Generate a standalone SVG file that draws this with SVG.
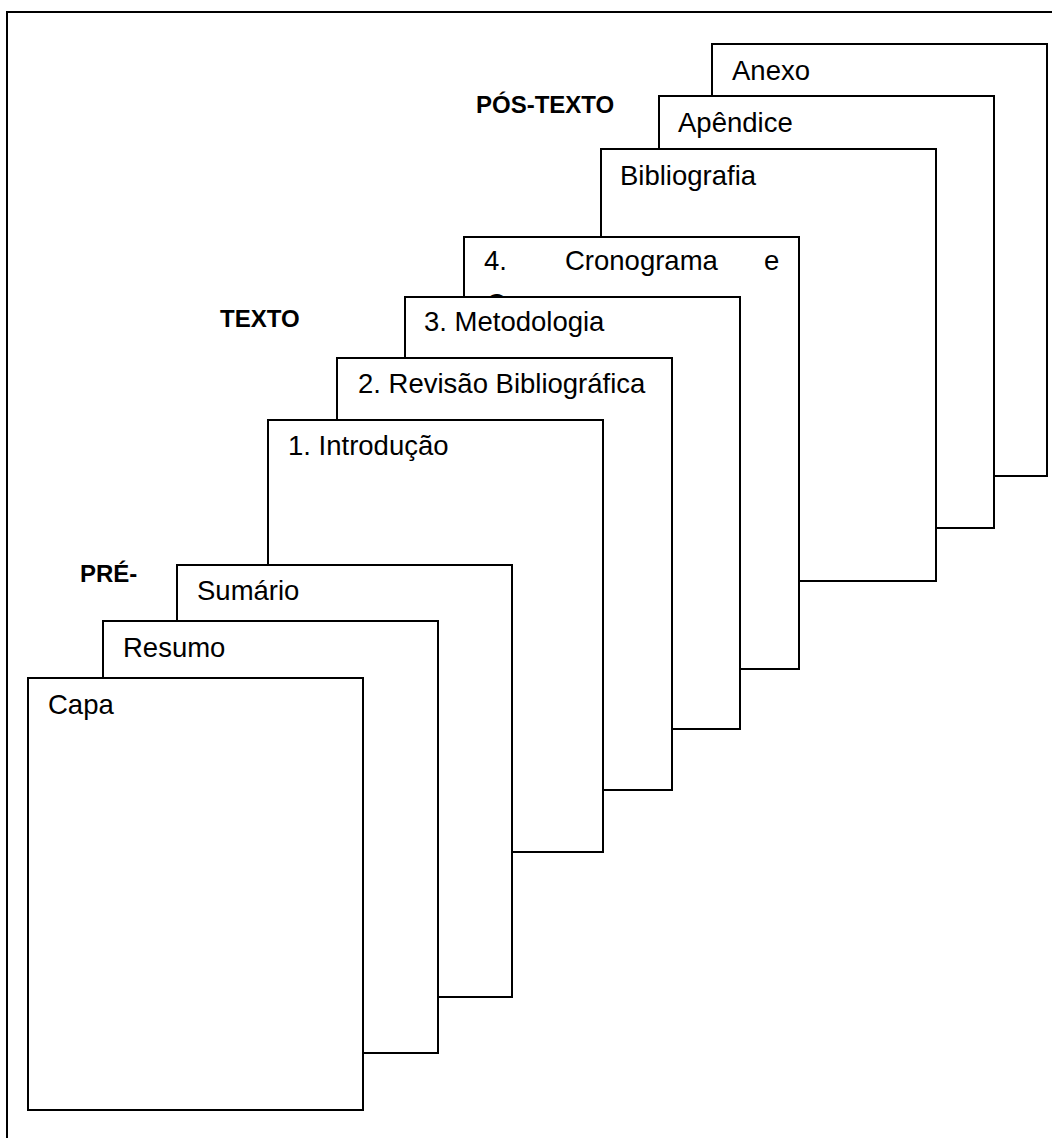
<svg xmlns="http://www.w3.org/2000/svg" width="1052" height="1138" viewBox="0 0 1052 1138">
<style>
.pg{fill:#fff;stroke:#000;stroke-width:2}
.t{font-family:"Liberation Sans",Arial,sans-serif;font-size:27.5px;fill:#000}
.h{font-family:"Liberation Sans",Arial,sans-serif;font-size:24px;font-weight:bold;fill:#000}
.fr{fill:none;stroke:#000;stroke-width:2}
</style>
<defs>
<clipPath id="cronoClip"><rect x="464" y="237" width="46" height="59"/></clipPath>
</defs>
<rect width="1052" height="1138" fill="#fff"/>
<g id="frame"><path class="fr" d="M7,1138 V12 H1052"/></g>
<g id="connectors"></g>
<g id="lbl-pos"><text class="h" x="476" y="113">PÓS-TEXTO</text></g>
<g id="lbl-texto"><text class="h" x="220" y="327">TEXTO</text></g>
<g id="lbl-pre"><text class="h" x="80" y="582">PRÉ-</text></g>
<g id="anexo"><rect class="pg" x="712" y="44" width="335" height="432"/><text class="t" x="732" y="80">Anexo</text></g>
<g id="apendice"><rect class="pg" x="659" y="96" width="335" height="432"/><text class="t" x="678" y="132">Apêndice</text></g>
<g id="bibliografia"><rect class="pg" x="601" y="149" width="335" height="432"/><text class="t" x="620" y="185">Bibliografia</text></g>
<g id="cronograma"><rect class="pg" x="464" y="237" width="335" height="432"/><text class="t" x="484" y="270">4.</text><text class="t" x="565" y="270">Cronograma</text><text class="t" x="764" y="270">e</text><text class="t" x="486" y="313" clip-path="url(#cronoClip)">Orçamento</text></g>
<g id="metodologia"><rect class="pg" x="405" y="297" width="335" height="432"/><text class="t" x="424" y="331">3. Metodologia</text></g>
<g id="revisao"><rect class="pg" x="337" y="358" width="335" height="432"/><text class="t" x="358" y="393">2. Revisão Bibliográfica</text></g>
<g id="introducao"><rect class="pg" x="268" y="420" width="335" height="432"/><text class="t" x="288" y="455">1. Introdução</text></g>
<g id="sumario"><rect class="pg" x="177" y="565" width="335" height="432"/><text class="t" x="197" y="600">Sumário</text></g>
<g id="resumo"><rect class="pg" x="103" y="621" width="335" height="432"/><text class="t" x="123" y="657">Resumo</text></g>
<g id="capa"><rect class="pg" x="28" y="678" width="335" height="432"/><text class="t" x="48" y="714">Capa</text></g>
</svg>
